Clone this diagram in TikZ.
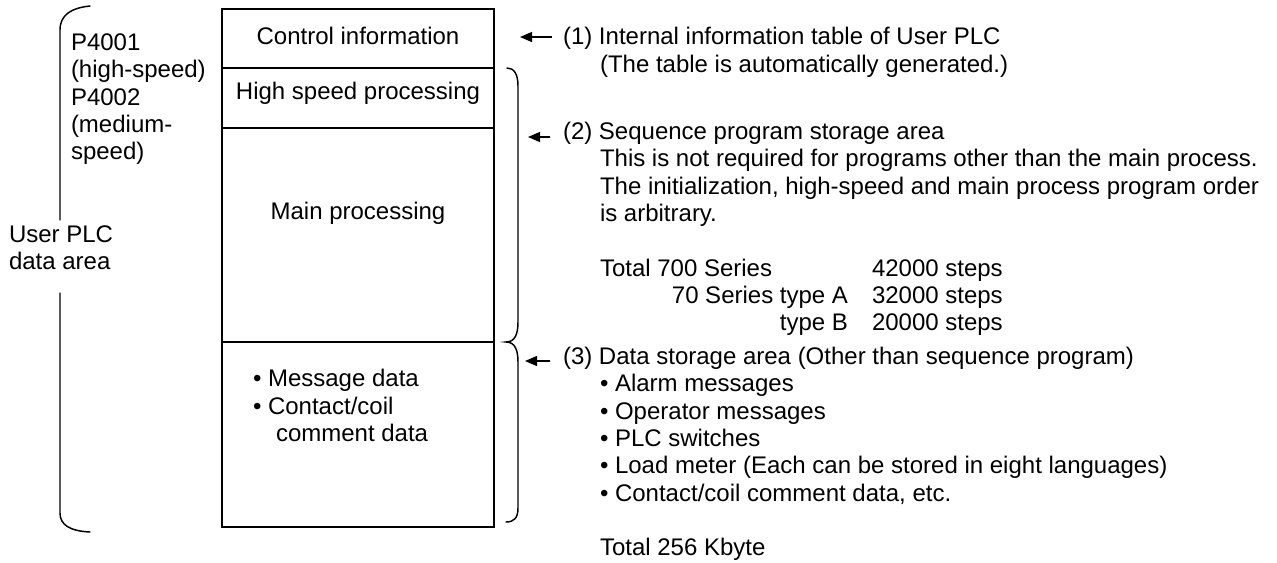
\documentclass[tikz,border=0pt]{standalone}
\usepackage{fontspec}
\setmainfont{Liberation Sans}
\usetikzlibrary{arrows.meta}
\newcommand{\txtsize}{\fontsize{18pt}{20.5pt}\selectfont}
\begin{document}
\begin{tikzpicture}[x=0.75pt,y=-0.75pt,
  txt/.style={inner sep=0pt, outer sep=0pt, font=\txtsize, anchor=base west},
  txtc/.style={txt, anchor=base},
  txte/.style={txt, anchor=base east},
  cell/.style={draw, line width=1.1pt, inner sep=0pt, outer sep=0pt, minimum width=204pt},
  bracket/.style={line width=1.1pt, line cap=round},
  ptr/.style={line width=1pt, -{Triangle[length=9pt,width=7.5pt]}}]

\useasboundingbox (0,0) rectangle (1277,562);

% memory map cells
\node[cell, minimum height=44.25pt] (ctrl) at (358,38.5) {};
\node[cell, minimum height=45pt]    (high) at (358,98) {};
\node[cell, minimum height=160.5pt] (main) at (358,235) {};
\node[cell, minimum height=138.75pt](data) at (358,434.5) {};

\node[txtc] (tctrl) at (358,44.5) {Control information};
\node[txtc] (thigh) at (358,99.5) {High speed processing};
\node[txtc] (tmain) at (358,219.5) {Main processing};
\node[txt] (tmsg) at (253,386.5) {\textbullet\ Message data};
\node[txt] (tcoil) at (253,414) {\textbullet\ Contact/coil};
\node[txt] (tcmt) at (276,441.5) {comment data};

% left bracket and its labels
\draw[bracket] (90,6) .. controls (71,8) and (60,15) .. (60,30) -- (60,220);
\draw[bracket] (60,293) -- (60,513) .. controls (60,525) and (70,531) .. (90,532);
\node[txt] (p1)  at (71,50.5)  {P4001};
\node[txt] (p1s) at (71,77.8)  {(high-speed)};
\node[txt] (p2)  at (71,105.1) {P4002};
\node[txt] (p2s) at (71,132.4) {(medium-};
\node[txt] (p2t) at (71,159.7) {speed)};
\node[txt] (ua)  at (9,242.5)  {User PLC};
\node[txt] (ub)  at (9,269.8)  {data area};

% right brace spanning the program and data areas
\draw[bracket] (507,68) .. controls (514,68) and (518,74) .. (518,86) -- (518,322)
  .. controls (518,334) and (515,342) .. (506,342)
  .. controls (515,342) and (518,350) .. (518,362) -- (518,508)
  .. controls (518,518) and (514,522) .. (506,522);

% pointers
\coordinate (a1s) at (552,37);  \coordinate (a1e) at (520,37);
\coordinate (a2s) at (550,137); \coordinate (a2e) at (528,137);
\coordinate (a3s) at (550,361); \coordinate (a3e) at (525,361);
\draw[ptr] (a1s) -- (a1e);
\draw[ptr] (a2s) -- (a2e);
\draw[ptr] (a3s) -- (a3e);

% (1)
\node[txt] (r1a) at (563,44.5) {(1) Internal information table of User PLC};
\node[txt] (r1b) at (600,72)   {(The table is automatically generated.)};

% (2)
\node[txt] (r2a) at (563,139.5) {(2) Sequence program storage area};
\node[txt] (r2b) at (600,166.8) {This is not required for programs other than the main process.};
\node[txt] (r2c) at (600,194.1) {The initialization, high-speed and main process program order};
\node[txt] (r2d) at (600,221.4) {is arbitrary.};
\node[txt]  (s1) at (600,276)   {Total 700 Series};
\node[txte] (s2) at (848,303.3) {70 Series type A};
\node[txte] (s3) at (848,330.6) {type B};
\node[txt]  (n1) at (872,276)   {42000 steps};
\node[txt]  (n2) at (872,303.3) {32000 steps};
\node[txt]  (n3) at (872,330.6) {20000 steps};

% (3)
\node[txt] (r3a) at (563,364.5) {(3) Data storage area (Other than sequence program)};
\node[txt] (b1) at (600,391.8) {\textbullet\ Alarm messages};
\node[txt] (b2) at (600,419.1) {\textbullet\ Operator messages};
\node[txt] (b3) at (600,446.4) {\textbullet\ PLC switches};
\node[txt] (b4) at (600,473.7) {\textbullet\ Load meter (Each can be stored in eight languages)};
\node[txt] (b5) at (600,501)   {\textbullet\ Contact/coil comment data, etc.};
\node[txt] (tot) at (600,555.6) {Total 256 Kbyte};
\end{tikzpicture}
\end{document}
